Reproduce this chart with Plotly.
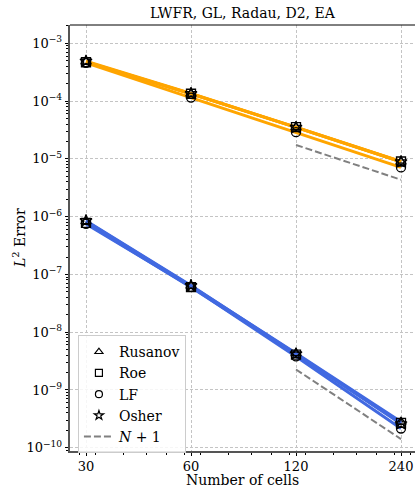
import math
import plotly.graph_objects as go

# Mesh sizes
cells = [30, 60, 120, 240]
tick_labels = ["30", "60", "120", "240"]

# L2 errors, first quantity (orange)
rusanov_a = [4.8e-4, 1.33e-4, 3.5e-5, 8.9e-6]
roe_a = [4.7e-4, 1.34e-4, 3.55e-5, 9.0e-6]
lf_a = [4.6e-4, 1.15e-4, 2.9e-5, 7.1e-6]
osher_a = [4.9e-4, 1.35e-4, 3.5e-5, 8.9e-6]

# L2 errors, second quantity (blue)
rusanov_b = [8.3e-7, 6.3e-8, 4.3e-9, 2.8e-10]
roe_b = [7.8e-7, 6.0e-8, 4.1e-9, 2.7e-10]
lf_b = [7.5e-7, 6.1e-8, 3.8e-9, 2.15e-10]
osher_b = [8.5e-7, 6.4e-8, 4.2e-9, 2.6e-10]

# Reference slopes N+1
ref_cells = [120, 240]
ref_a = [1.74e-5, 4.35e-6]
ref_b = [2.26e-9, 1.41e-10]

solvers = ["Rusanov", "Roe", "LF", "Osher"]
symbols = ["triangle-up-open", "square-open", "circle-open", "star-open"]
set_a = [rusanov_a, roe_a, lf_a, osher_a]
set_b = [rusanov_b, roe_b, lf_b, osher_b]

ORANGE = "#ffa500"
BLUE = "#4169e1"
SERIF = "'DejaVu Serif', 'Liberation Serif', serif"

fig = go.Figure()

# Error lines
for errs, color in [(set_a, ORANGE), (set_b, BLUE)]:
    for e in errs:
        fig.add_trace(go.Scatter(x=cells, y=e, mode="lines",
                                 line=dict(color=color, width=3),
                                 showlegend=False, hoverinfo="skip"))

# Reference slopes
for ref in [ref_a, ref_b]:
    fig.add_trace(go.Scatter(x=ref_cells, y=ref, mode="lines",
                             line=dict(color="#808080", width=2, dash="7px,3px"),
                             showlegend=False, hoverinfo="skip"))

# Markers
for errs in [set_a, set_b]:
    for e, sym in zip(errs, symbols):
        fig.add_trace(go.Scatter(x=cells, y=e, mode="markers",
                                 marker=dict(symbol=sym, size=9, color="black",
                                             line=dict(color="black", width=1.3)),
                                 showlegend=False, hoverinfo="skip"))

# Legend entries
for name, sym in zip(solvers, symbols):
    fig.add_trace(go.Scatter(x=[None], y=[None], mode="markers", name=name,
                             marker=dict(symbol=sym, size=7, color="black",
                                         line=dict(color="black", width=1.2))))
fig.add_trace(go.Scatter(x=[None], y=[None], mode="lines",
                         name="<i>N</i> + 1",
                         line=dict(color="#808080", width=2, dash="7px,3px")))

ytick_vals = [10.0 ** k for k in range(-10, -2)]
ytick_text = ["10<sup>\u2212%d</sup>" % -k for k in range(-10, -2)]
y_minor = [m * 10.0 ** k for k in range(-11, -2) for m in range(2, 10)]
x_minor = [b * f for b in [16, 32, 64, 128] for f in [1.2, 1.4, 1.6, 1.8]] + [32, 64, 128, 256]
x_minor = sorted(v for v in x_minor if 27 < v < 263)

x_lo = math.log10(30) - 16 / 348.8
x_hi = math.log10(30) + (415 - 86) / 348.8

grid = dict(showgrid=True, gridcolor="#c4c4c4", gridwidth=0.8, griddash="3px,2px")

fig.update_layout(
    width=415, height=485,
    margin=dict(l=70, r=0, t=25, b=34),
    plot_bgcolor="white", paper_bgcolor="white",
    font=dict(family=SERIF, size=13, color="black"),
    showlegend=True,
    legend=dict(x=0.023, y=0.272, xanchor="left", yanchor="top",
                bgcolor="rgba(255,255,255,0.85)", bordercolor="#cccccc",
                borderwidth=1, font=dict(family=SERIF, size=14),
                itemwidth=30, tracegroupgap=0),
    xaxis=dict(type="log", range=[x_lo, x_hi],
               tickvals=cells, ticktext=tick_labels,
               ticks="outside", ticklen=3, tickwidth=0.8, tickcolor="black",
               showline=True, linecolor="#555555", linewidth=1.5,
               zeroline=False, **grid,
               minor=dict(tickvals=x_minor, ticks="outside", ticklen=2,
                          tickcolor="black", tickwidth=0.8, showgrid=False)),
    yaxis=dict(type="log", range=[-10.057, -2.683],
               tickvals=ytick_vals, ticktext=ytick_text,
               ticks="outside", ticklen=3.5, tickwidth=0.8, tickcolor="black",
               showline=True, linecolor="#555555", linewidth=1.5,
               zeroline=False, **grid,
               minor=dict(tickvals=y_minor, ticks="outside", ticklen=2,
                          tickcolor="black", tickwidth=0.6, showgrid=False)),
)

# Top spine
fig.add_shape(type="line", xref="paper", yref="paper", x0=0, x1=1, y0=1, y1=1,
              line=dict(color="black", width=1))

fig.add_annotation(text="LWFR, GL, Radau, D2, EA", xref="paper", yref="paper",
                   x=0.5, y=1, yshift=2, xanchor="center", yanchor="bottom",
                   showarrow=False, font=dict(family=SERIF, size=14))
fig.add_annotation(text="Number of cells", xref="paper", yref="paper",
                   x=0.5, y=0, yshift=-19, xanchor="center", yanchor="top",
                   showarrow=False, font=dict(family=SERIF, size=14))
fig.add_annotation(text="<i>L</i><sup>2</sup> Error", xref="paper", yref="paper",
                   x=0, xshift=-40, y=0.5, xanchor="right", yanchor="middle",
                   textangle=-90, showarrow=False, font=dict(family=SERIF, size=14))

fig.write_html("out.html")
